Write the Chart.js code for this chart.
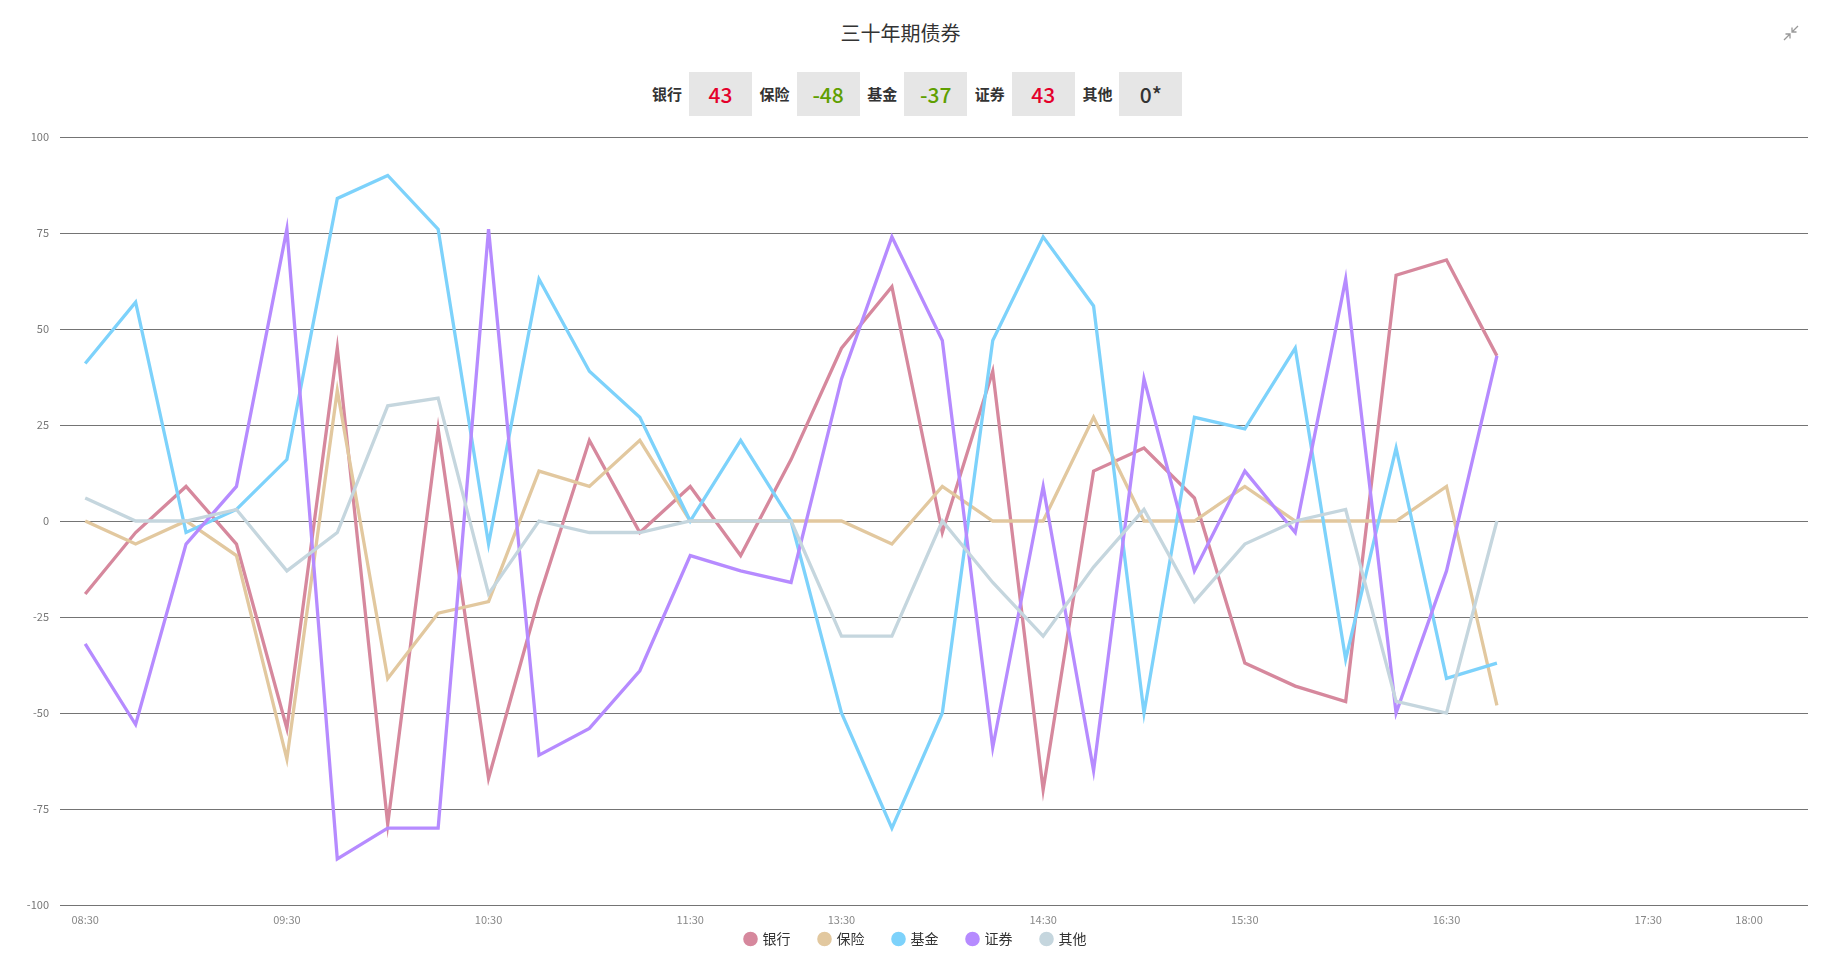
<!DOCTYPE html>
<html>
<head>
<meta charset="utf-8">
<script src="https://cdn.jsdelivr.net/npm/chart.js@4/dist/chart.umd.min.js"></script>
<style>
  html, body { margin: 0; padding: 0; background: #fff; }
  body { width: 1829px; height: 968px; position: relative; overflow: hidden;
         font-family: "Noto Sans CJK SC", "Noto Sans", sans-serif; }
  #title { position: absolute; top: 18px; left: 0; width: 1801px; text-align: center;
           font-size: 20px; color: #333; line-height: 30px; }
  #summary { position: absolute; top: 72px; left: 651px; height: 44px; }
  .lab { position: absolute; top: 0; height: 44px; line-height: 44px; font-size: 15px;
         font-weight: bold; color: #333; width: 32px; text-align: center; }
  .box { position: absolute; top: 0; height: 44px; width: 63px; background: #e6e6e6;
         line-height: 44px; text-align: center; font-size: 21px; font-weight: 500; }
  #icon { position: absolute; left: 1782px; top: 24px; }
  #wrap { position: absolute; left: 0; top: 0; width: 1829px; height: 968px; }
</style>
</head>
<body>
<div id="title">三十年期债券</div>
<div id="summary"></div>
<svg id="icon" width="18" height="18" viewBox="0 0 18 18" fill="none" stroke="#999" stroke-width="1.3">
  <path d="M16 2 L10 8 M10 3.5 L10 8 L14.5 8"/>
  <path d="M2 16 L8 10 M3.5 10 L8 10 L8 14.5"/>
</svg>
<div id="wrap"><canvas id="c"></canvas></div>
<script>
const times = ['08:30','08:45','09:00','09:15','09:30','09:45','10:00','10:15','10:30','10:45',
  '11:00','11:15','11:30','13:00','13:15','13:30','13:45','14:00','14:15','14:30','14:45',
  '15:00','15:15','15:30','15:45','16:00','16:15','16:30','16:45','17:00','17:15','17:30','17:45','18:00'];
const shownTicks = ['08:30','09:30','10:30','11:30','13:30','14:30','15:30','16:30','17:30','18:00'];
const seriesNames = ['银行','保险','基金','证券','其他'];
const bank       = [-19,-3,9,-6,-54,45,-79,24,-67,-20,21,-3,9,-9,16,45,61,-3,39,-70,13,19,6,-37,-43,-47,64,68,43];
const insurance  = [0,-6,0,-9,-62,34,-41,-24,-21,13,9,21,0,0,0,0,-6,9,0,0,27,0,0,9,0,0,0,9,-48];
const fund       = [41,57,-3,3,16,84,90,76,-6,63,39,27,0,21,0,-50,-80,-50,47,74,56,-50,27,24,45,-36,19,-41,-37];
const securities = [-32,-53,-6,9,76,-88,-80,-80,76,-61,-54,-39,-9,-13,-16,37,74,47,-59,9,-65,37,-13,13,-3,63,-50,-13,43];
const others     = [6,0,0,3,-13,-3,30,32,-19,0,-3,-3,0,0,0,-30,-30,0,-16,-30,-12,3,-21,-6,0,3,-47,-50,0];
const yTicks = [-100,-75,-50,-25,0,25,50,75,100];

const seriesData = [bank, insurance, fund, securities, others];
const colors = ['#d6889d','#e2c89f','#7dd2fb','#b68bff','#c5d6de'];

// summary row (last values)
const summary = document.getElementById('summary');
seriesNames.forEach((name, i) => {
  const v = seriesData[i][seriesData[i].length - 1];
  const lab = document.createElement('div');
  lab.className = 'lab'; lab.textContent = name;
  lab.style.left = (i * 107.6) + 'px';
  const box = document.createElement('div');
  box.className = 'box';
  box.textContent = v === 0 ? '0*' : String(v);
  box.style.color = v > 0 ? '#e4002b' : (v < 0 ? '#5f9f00' : '#333');
  box.style.left = (i * 107.6 + 38) + 'px';
  summary.appendChild(lab); summary.appendChild(box);
});

const datasets = seriesNames.map((name, i) => ({
  label: name,
  data: seriesData[i].map((v, k) => ({ x: k, y: v })),
  borderColor: colors[i],
  backgroundColor: colors[i],
  borderWidth: 3.3,
  pointRadius: 0,
  tension: 0,
  order: seriesNames.length - i
}));

const font = { family: '"Noto Sans CJK SC", "Noto Sans", sans-serif', size: 11 };

// move the legend up so it sits just under the x tick labels
const legendShift = {
  id: 'legendShift',
  beforeDraw(chart) {
    const lg = chart.legend;
    if (!lg) return;
    const h = lg.bottom - lg.top;
    lg.top = chart.chartArea.bottom - 2;
    lg.bottom = lg.top + h;
  }
};

new Chart(document.getElementById('c'), {
  type: 'line',
  data: { datasets },
  plugins: [legendShift],
  options: {
    responsive: true,
    maintainAspectRatio: false,
    animation: false,
    layout: { padding: { top: 137, left: 24, right: 21, bottom: -14 } },
    plugins: {
      title: { display: false },
      tooltip: { enabled: false },
      legend: {
        position: 'bottom',
        labels: {
          usePointStyle: true, pointStyle: 'circle',
          boxWidth: 10, boxHeight: 8, padding: 29,
          color: '#333',
          font: { family: '"Noto Sans CJK SC", sans-serif', size: 14 },
          sort: (a, b) => a.datasetIndex - b.datasetIndex
        }
      }
    },
    scales: {
      x: {
        type: 'linear',
        min: -0.5,
        max: 34.17,
        grid: { display: false, drawTicks: false },
        border: { display: false },
        afterFit: s => { s.height = 24; },
        afterBuildTicks: s => {
          s.ticks = shownTicks.map(t => ({ value: times.indexOf(t) }));
        },
        ticks: {
          autoSkip: false, maxRotation: 0, padding: 8,
          color: '#888', font,
          callback: v => times[v] ?? ''
        }
      },
      y: {
        min: -100, max: 100,
        afterFit: s => { s.width = 36; },
        afterBuildTicks: s => { s.ticks = yTicks.map(v => ({ value: v })); },
        grid: { color: '#747474', lineWidth: 1, drawTicks: false },
        border: { display: false },
        ticks: { padding: 11, color: '#777', font }
      }
    }
  }
});
</script>
</body>
</html>
